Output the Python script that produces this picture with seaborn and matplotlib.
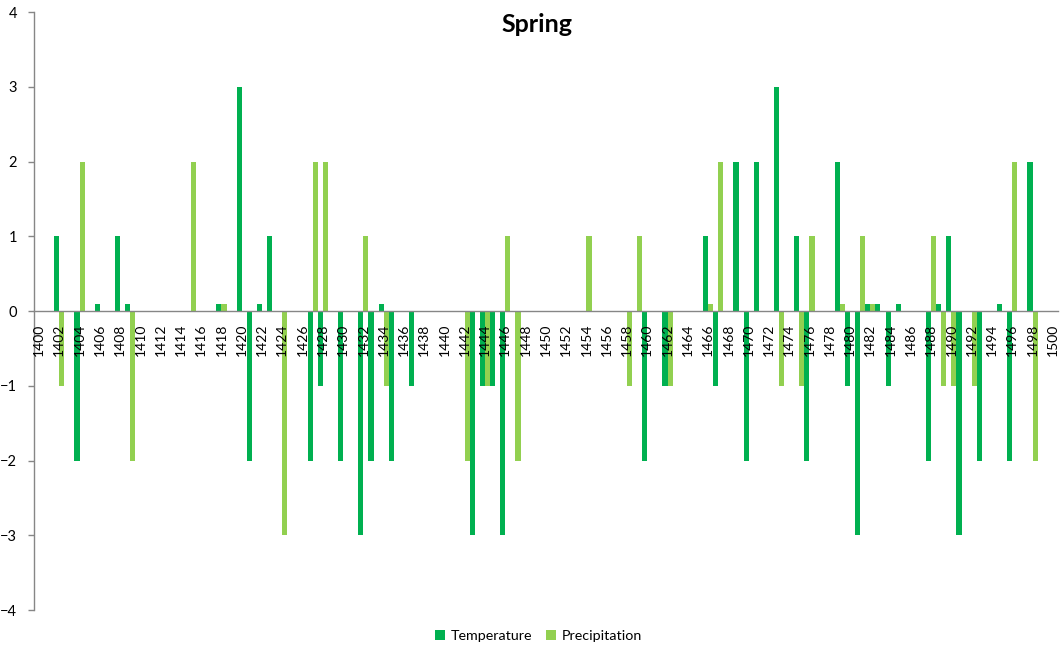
import pandas as pd
import seaborn as sns
import matplotlib.pyplot as plt

years = list(range(1400, 1501))

temperature = [
    0, 0, 1, 0, -2, 0, 0.1, 0, 1, 0.1,          # 1400-1409
    0, 0, 0, 0, 0, 0, 0, 0, 0.1, 0,             # 1410-1419
    3, -2, 0.1, 1, 0, 0, 0, -2, -1, 0,          # 1420-1429
    -2, 0, -3, -2, 0.1, -2, 0, -1, 0, 0,        # 1430-1439
    0, 0, 0, -3, -1, -1, -3, 0, 0, 0,           # 1440-1449
    0, 0, 0, 0, 0, 0, 0, 0, 0, 0,               # 1450-1459
    -2, 0, -1, 0, 0, 0, 1, -1, 0, 2,            # 1460-1469
    -2, 2, 0, 3, 0, 1, -2, 0, 0, 2,             # 1470-1479
    -1, -3, 0.1, 0.1, -1, 0.1, 0, 0, -2, 0.1,   # 1480-1489
    1, -3, 0, -2, 0, 0.1, -2, 0, 2, 0,          # 1490-1499
    0,                                          # 1500
]

precipitation = [
    0, 0, -1, 0, 2, 0, 0, 0, 0, -2,             # 1400-1409
    0, 0, 0, 0, 0, 2, 0, 0, 0.1, 0,             # 1410-1419
    0, 0, 0, 0, -3, 0, 0, 2, 2, 0,              # 1420-1429
    0, 0, 1, 0, -1, 0, 0, 0, 0, 0,              # 1430-1439
    0, 0, -2, 0, -1, 0, 1, -2, 0, 0,            # 1440-1449
    0, 0, 0, 0, 1, 0, 0, 0, -1, 1,              # 1450-1459
    0, 0, -1, 0, 0, 0, 0.1, 2, 0, 0,            # 1460-1469
    0, 0, 0, -1, 0, -1, 1, 0, 0, 0.1,           # 1470-1479
    0, 1, 0.1, 0, 0, 0, 0, 0, 1, -1,            # 1480-1489
    -1, 0, -1, 0, 0, 0, 2, 0, -2, 0,            # 1490-1499
    0,                                          # 1500
]

series_names = ["Temperature", "Precipitation"]
colors = {"Temperature": "#00B050", "Precipitation": "#92D050"}
axis_grey = "#868686"

sns.set_style("white")
plt.rcParams["font.family"] = ["Lato", "DejaVu Sans"]
plt.rcParams["text.color"] = "black"
plt.rcParams["xtick.color"] = "black"
plt.rcParams["ytick.color"] = "black"

df = pd.DataFrame({
    "year": [str(y) for y in years] * 2,
    "value": temperature + precipitation,
    "series": [series_names[0]] * len(years) + [series_names[1]] * len(years),
})

fig = plt.figure(figsize=(10.6, 6.5), dpi=100)
ax = fig.add_axes([0.032, 0.0615, 0.966, 0.92])

sns.barplot(data=df, x="year", y="value", hue="series", palette=colors,
            width=1.0, linewidth=0, saturation=1, errorbar=None, ax=ax)

ax.set_xlim(-0.5, len(years) - 0.5)
ax.set_ylim(-4, 4)
ax.set_yticks(range(-4, 5))
ax.set_xlabel("")
ax.set_ylabel("")

for side in ["top", "right"]:
    ax.spines[side].set_visible(False)
ax.spines["bottom"].set_position(("data", 0))
for side in ["bottom", "left"]:
    ax.spines[side].set_color(axis_grey)
    ax.spines[side].set_linewidth(1)

ax.set_xticks(range(0, len(years), 2))
ax.set_xticklabels([str(y) for y in years[::2]], rotation=90, fontsize=10)
ax.set_xticks([i - 0.5 for i in range(len(years) + 1)], minor=True)
ax.tick_params(axis="x", which="major", length=0, pad=9)
ax.tick_params(axis="x", which="minor", length=4, color=axis_grey, width=1)
ax.tick_params(axis="y", which="major", length=4, color=axis_grey, width=1,
               labelsize=10.5, left=True, pad=8)
ax.xaxis.set_zorder(5)

fig.text(0.507, 0.962, "Spring", fontsize=18, fontweight="bold",
         ha="center", va="center")

handles, labels = ax.get_legend_handles_labels()
ax.legend_.remove()
fig.legend(handles, labels, loc="lower center", ncol=2, frameon=False,
           bbox_to_anchor=(0.508, -0.007), handlelength=0.7, handleheight=0.7,
           handletextpad=0.35, columnspacing=1.0, fontsize=10.3)

plt.savefig("out.png")
plt.close()
